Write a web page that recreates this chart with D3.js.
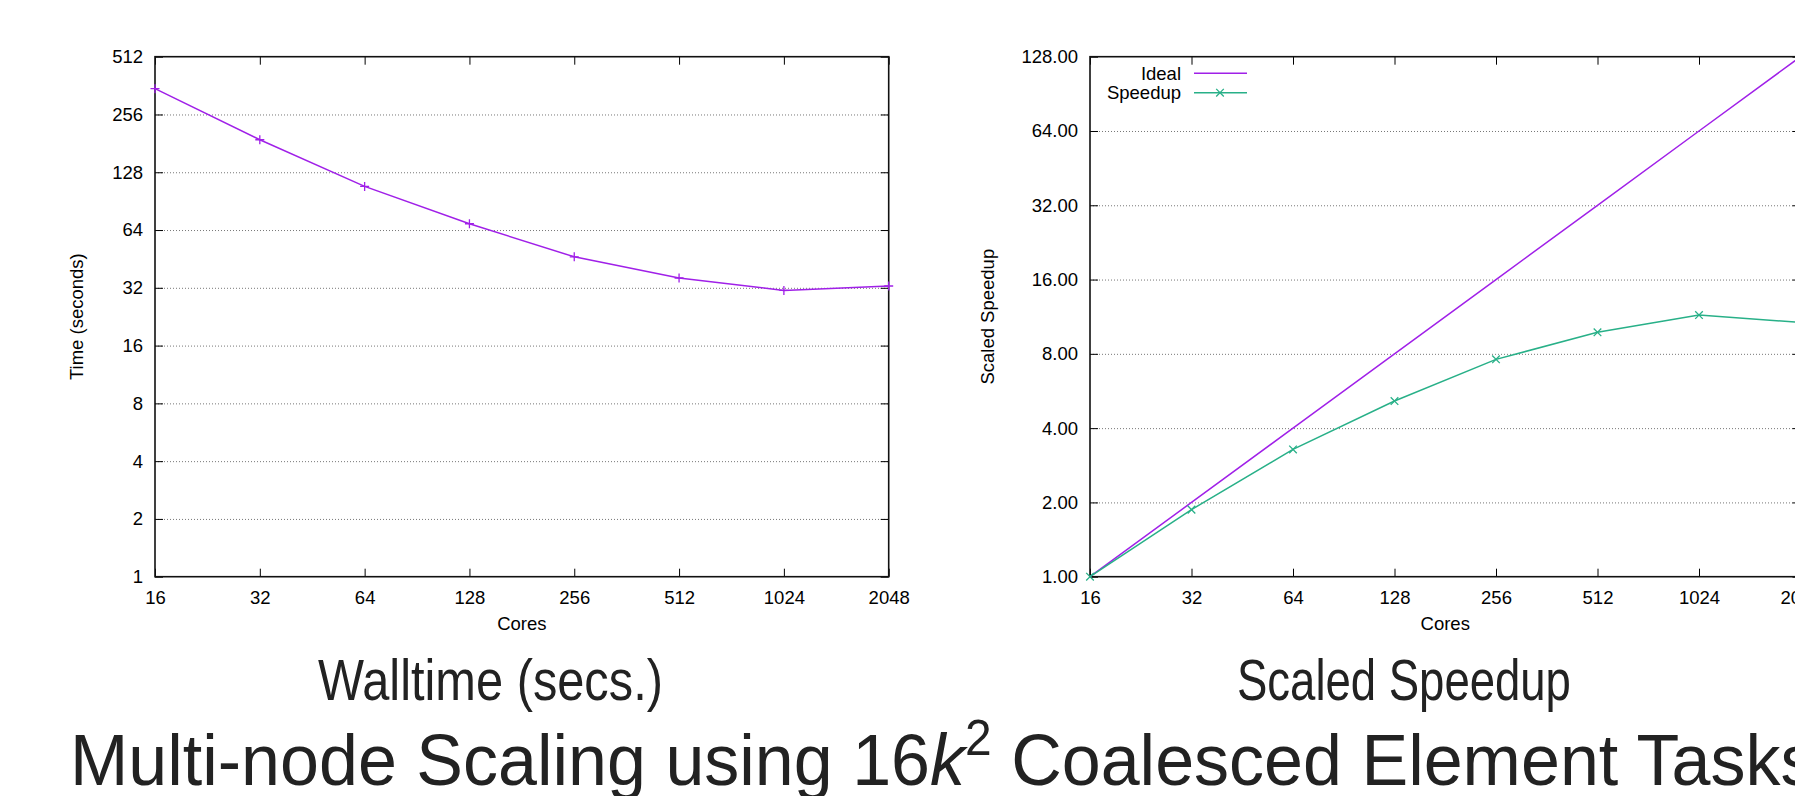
<!DOCTYPE html>
<html>
<head>
<meta charset="utf-8">
<script src="https://cdn.jsdelivr.net/npm/d3@7"></script>
<style>
  body { margin: 0; background: #fff; }
  svg { display: block; }
  .axis text { font-family: "Liberation Sans", Arial, sans-serif; font-size: 18.5px; fill: #000; }
  .axis path { display: none; }
  .axis line { stroke: #000; stroke-width: 1; }
  .grid line { stroke: #777; stroke-width: 1; stroke-dasharray: 1,2; }
  .grid path { display: none; }
  .lbl { font-family: "Liberation Sans", Arial, sans-serif; font-size: 18.5px; fill: #000; }
  .title { font-family: "Liberation Sans", "DejaVu Sans", sans-serif; fill: #222; }
</style>
</head>
<body>
<div id="chart"></div>
<script>
const w = 1795;
const h = 796;

// data
const cores = [16, 32, 64, 128, 256, 512, 1024, 2048];
const walltime = [349, 189, 108, 69, 46.4, 36.0, 31.0, 32.7];
const speedup = [1.0, 1.87, 3.28, 5.15, 7.6, 9.78, 11.49, 10.72];
const ideal = [1, 2, 4, 8, 16, 32, 64, 128];

const timeTicks = [1, 2, 4, 8, 16, 32, 64, 128, 256, 512];
const speedTicks = [1, 2, 4, 8, 16, 32, 64, 128];

const purple = "#a020e8";
const green = "#28b088";

const svg = d3.select("#chart").append("svg")
  .attr("width", w)
  .attr("height", h);

svg.append("rect").attr("width", w).attr("height", h).attr("fill", "#fff");

const drawPanel = function (opt) {
  const x = d3.scaleLog().base(2).domain([16, 2048]).range([opt.left, opt.right]);
  const y = d3.scaleLog().base(2).domain(opt.yDomain).range([opt.bottom, opt.top]);
  const g = svg.append("g");

  // dotted grid
  g.append("g").attr("class", "grid")
    .attr("transform", `translate(${opt.left},0)`)
    .call(d3.axisLeft(y).tickValues(opt.yTicks.slice(1, -1)).tickSize(-(opt.right - opt.left)).tickFormat(""));

  // ticks + labels
  g.append("g").attr("class", "axis")
    .attr("transform", `translate(0,${opt.bottom})`)
    .call(d3.axisBottom(x).tickValues(cores).tickSize(-8).tickPadding(14).tickFormat(d3.format("d")))
    .selectAll("text").attr("dy", "0.71em");
  g.append("g").attr("class", "axis")
    .attr("transform", `translate(0,${opt.top})`)
    .call(d3.axisTop(x).tickValues(cores).tickSize(-8).tickFormat(""));
  g.append("g").attr("class", "axis")
    .attr("transform", `translate(${opt.left},0)`)
    .call(d3.axisLeft(y).tickValues(opt.yTicks).tickSize(-8).tickPadding(12).tickFormat(opt.yFormat));
  g.append("g").attr("class", "axis")
    .attr("transform", `translate(${opt.right},0)`)
    .call(d3.axisRight(y).tickValues(opt.yTicks).tickSize(-8).tickFormat(""));

  // border
  g.append("rect")
    .attr("x", opt.left).attr("y", opt.top)
    .attr("width", opt.right - opt.left).attr("height", opt.bottom - opt.top)
    .attr("fill", "none").attr("stroke", "#111").attr("stroke-width", 1.6);

  g.append("text").attr("class", "lbl")
    .attr("x", (opt.left + opt.right) / 2).attr("y", 630)
    .attr("text-anchor", "middle").text("Cores");

  g.append("text").attr("class", "lbl")
    .attr("transform", `translate(${opt.ylabelX},${(opt.top + opt.bottom) / 2}) rotate(-90)`)
    .attr("text-anchor", "middle").attr("dy", "0.35em")
    .text(opt.ylabel);

  return { x: x, y: y, g: g };
};

const plus = function (g, cx, cy, r, color) {
  g.append("path")
    .attr("d", `M${cx - r},${cy}H${cx + r}M${cx},${cy - r}V${cy + r}`)
    .attr("stroke", color).attr("stroke-width", 1.3).attr("fill", "none");
};
const cross = function (g, cx, cy, r, color) {
  g.append("path")
    .attr("d", `M${cx - r},${cy - r}L${cx + r},${cy + r}M${cx - r},${cy + r}L${cx + r},${cy - r}`)
    .attr("stroke", color).attr("stroke-width", 1.3).attr("fill", "none");
};

// left panel: walltime
const p1 = drawPanel({
  left: 155, right: 888.7, top: 56.7, bottom: 576.7,
  yDomain: [1, 512], yTicks: timeTicks, yFormat: d3.format("d"),
  ylabel: "Time (seconds)", ylabelX: 77
});

const line1 = d3.line().x((d, i) => p1.x(cores[i])).y((d) => p1.y(d));
p1.g.append("path").datum(walltime)
  .attr("d", line1).attr("fill", "none")
  .attr("stroke", purple).attr("stroke-width", 1.5);
walltime.forEach((d, i) => plus(p1.g, p1.x(cores[i]), p1.y(d), 4.5, purple));

// right panel: speedup
const p2 = drawPanel({
  left: 1090, right: 1800.5, top: 56.7, bottom: 576.7,
  yDomain: [1, 128], yTicks: speedTicks, yFormat: d3.format(".2f"),
  ylabel: "Scaled Speedup", ylabelX: 988
});

const lineI = d3.line().x((d, i) => p2.x(cores[i])).y((d) => p2.y(d));
p2.g.append("path").datum(ideal)
  .attr("d", lineI).attr("fill", "none")
  .attr("stroke", purple).attr("stroke-width", 1.5);
p2.g.append("path").datum(speedup)
  .attr("d", lineI).attr("fill", "none")
  .attr("stroke", green).attr("stroke-width", 1.5);
speedup.forEach((d, i) => cross(p2.g, p2.x(cores[i]), p2.y(d), 3.8, green));

// legend
const leg = p2.g.append("g");
leg.append("text").attr("class", "lbl").attr("x", 1181).attr("y", 73.3)
  .attr("dy", "0.35em").attr("text-anchor", "end").text("Ideal");
leg.append("line").attr("x1", 1194).attr("x2", 1247).attr("y1", 73.3).attr("y2", 73.3)
  .attr("stroke", purple).attr("stroke-width", 1.5);
leg.append("text").attr("class", "lbl").attr("x", 1181).attr("y", 92.7)
  .attr("dy", "0.35em").attr("text-anchor", "end").text("Speedup");
leg.append("line").attr("x1", 1194).attr("x2", 1247).attr("y1", 92.7).attr("y2", 92.7)
  .attr("stroke", green).attr("stroke-width", 1.5);
cross(leg, 1220, 92.7, 3.8, green);

// slide titles, squeezed to the measured widths
const fitText = function (sel, x0, base, target) {
  const wd = sel.node().getComputedTextLength();
  sel.attr("transform", `translate(${x0},${base}) scale(${target / wd},1)`);
};

fitText(svg.append("text").attr("class", "title").attr("font-size", 57).text("Walltime (secs.)"),
  318, 700, 345);
fitText(svg.append("text").attr("class", "title").attr("font-size", 57).text("Scaled Speedup"),
  1237, 700, 334);

const big = svg.append("text").attr("class", "title").attr("font-size", 73);
big.append("tspan").text("Multi-node Scaling using 16");
big.append("tspan").attr("font-style", "italic").text("k");
big.append("tspan").attr("font-size", 50).attr("dy", -30).text("2");
big.append("tspan").attr("dy", 30).text(" Coalesced Element Tasks");

// scale factor from the "Multi-node Sca" part (467px wide in the picture)
const probe = svg.append("text").attr("class", "title").attr("font-size", 73).text("Multi-node Sca");
const k = 467 / probe.node().getComputedTextLength();
probe.remove();
big.attr("transform", `translate(70,785) scale(${k},1)`);
</script>
</body>
</html>
